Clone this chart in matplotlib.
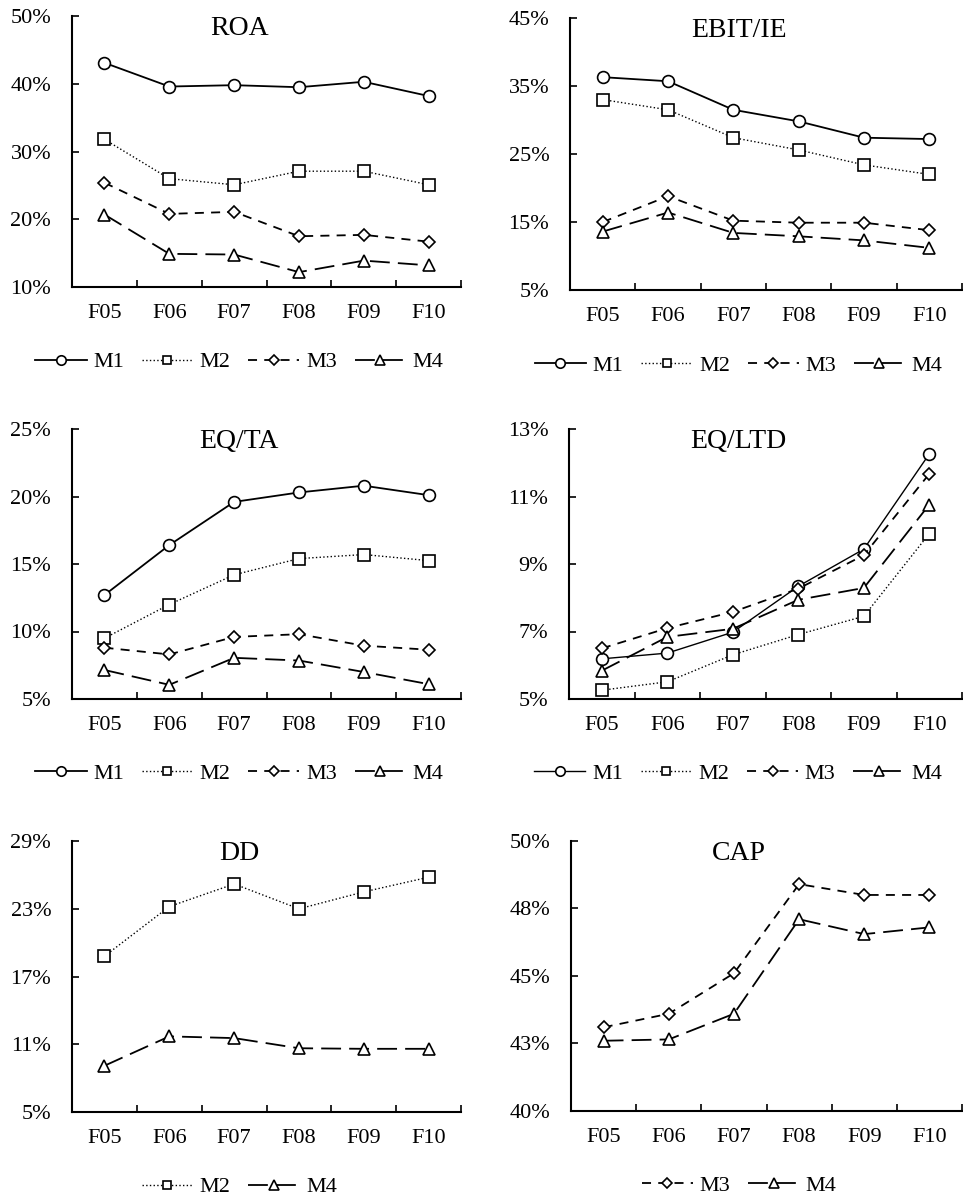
import matplotlib
matplotlib.use("agg")
import matplotlib.pyplot as plt
from matplotlib.ticker import FixedLocator, FuncFormatter

plt.rcParams['font.family'] = ['Liberation Serif', 'DejaVu Serif']

years = ['F05', 'F06', 'F07', 'F08', 'F09', 'F10']

# values in percent
roa_m1 = [43.1, 39.6, 39.8, 39.5, 40.3, 38.2]
roa_m2 = [31.8, 26.0, 25.1, 27.1, 27.1, 25.1]
roa_m3 = [25.4, 20.8, 21.1, 17.5, 17.7, 16.7]
roa_m4 = [20.7, 14.9, 14.8, 12.2, 13.9, 13.2]

ebit_m1 = [36.3, 35.7, 31.5, 29.8, 27.4, 27.2]
ebit_m2 = [33.0, 31.5, 27.4, 25.6, 23.4, 22.0]
ebit_m3 = [15.0, 18.8, 15.2, 14.9, 14.9, 13.8]
ebit_m4 = [13.6, 16.4, 13.4, 12.9, 12.3, 11.2]

eqta_m1 = [12.7, 16.4, 19.6, 20.3, 20.8, 20.1]
eqta_m2 = [9.5, 12.0, 14.2, 15.4, 15.7, 15.25]
eqta_m3 = [8.8, 8.3, 9.6, 9.8, 8.95, 8.65]
eqta_m4 = [7.15, 6.05, 8.05, 7.85, 7.0, 6.1]

eqltd_m1 = [6.19, 6.36, 6.98, 8.34, 9.44, 12.26]
eqltd_m2 = [5.26, 5.51, 6.31, 6.91, 7.45, 9.9]
eqltd_m3 = [6.5, 7.1, 7.58, 8.27, 9.26, 11.67]
eqltd_m4 = [5.84, 6.84, 7.08, 7.94, 8.29, 10.76]

dd_m2 = [18.8, 23.2, 25.2, 23.0, 24.5, 25.8]
dd_m4 = [9.1, 11.7, 11.55, 10.65, 10.6, 10.6]

cap_m3 = [43.1, 43.6, 45.1, 48.4, 48.0, 48.0]
cap_m4 = [42.6, 42.65, 43.6, 47.1, 46.55, 46.8]

styles = {
    'M1': dict(ls='-', lw=1.3, marker='o', ms=8.5),
    'M2': dict(ls=':', lw=1.0, marker='s', ms=8),
    'M3': dict(ls=(0, (5, 4)), lw=1.3, marker='D', ms=6),
    'M4': dict(ls=(0, (11, 4.5)), lw=1.3, marker='^', ms=8.5),
}

panels = [
    ('ROA', [('M1', roa_m1), ('M2', roa_m2), ('M3', roa_m3), ('M4', roa_m4)],
     [10, 20, 30, 40, 50], [0.0748, 0.7608, 0.404, 0.2258]),
    ('EBIT/IE', [('M1', ebit_m1), ('M2', ebit_m2), ('M3', ebit_m3), ('M4', ebit_m4)],
     [5, 15, 25, 35, 45], [0.592, 0.7583, 0.407, 0.2267]),
    ('EQ/TA', [('M1', eqta_m1), ('M2', eqta_m2), ('M3', eqta_m3), ('M4', eqta_m4)],
     [5, 10, 15, 20, 25], [0.0748, 0.4175, 0.404, 0.225]),
    ('EQ/LTD', [('M1', eqltd_m1), ('M2', eqltd_m2), ('M3', eqltd_m3), ('M4', eqltd_m4)],
     [5, 7, 9, 11, 13], [0.591, 0.4175, 0.408, 0.225]),
    ('DD', [('M2', dd_m2), ('M4', dd_m4)],
     [5, 11, 17, 23, 29], [0.0748, 0.0733, 0.404, 0.2258]),
    ('CAP', [('M3', cap_m3), ('M4', cap_m4)],
     [40, 42.5, 45, 47.5, 50], [0.593, 0.0742, 0.406, 0.2250]),
]

fig = plt.figure(figsize=(9.63, 12), dpi=100)

for title, series, yt, rect in panels:
    ax = fig.add_axes(rect)
    x = range(len(years))
    for name, vals in series:
        st = dict(styles[name])
        if title == 'EQ/LTD' and name == 'M1':
            st['lw'] = 1.0
        ax.plot(x, vals, color='black', mfc='white', mec='black', mew=1.2,
                label=name, **st)
    ax.set_xlim(-0.5, len(years) - 0.5)
    ax.set_ylim(yt[0], yt[-1])
    ax.yaxis.set_major_locator(FixedLocator(yt))
    ax.yaxis.set_major_formatter(FuncFormatter(lambda v, p: '%d%%' % int(v + 0.5)))
    ax.set_xticks([i + 0.5 for i in range(len(years))])
    ax.set_xticklabels([])
    ax.set_xticks(list(x), minor=True)
    ax.set_xticklabels(years, minor=True, fontsize=16)
    ax.tick_params(axis='x', which='major', direction='in', length=5, width=1.2)
    ax.tick_params(axis='x', which='minor', length=0, pad=12)
    ax.tick_params(axis='y', direction='in', length=5, width=1.2, pad=15, labelsize=16)
    for s in ['top', 'right']:
        ax.spines[s].set_visible(False)
    for s in ['left', 'bottom']:
        ax.spines[s].set_linewidth(1.5)
    ax.text(0.43, 0.955, title, transform=ax.transAxes, ha='center', va='center',
            fontsize=20)
    ax.legend(loc='center', bbox_to_anchor=(0.43, -0.277), ncol=len(series),
              frameon=False, fontsize=16, handlelength=2.3, handletextpad=0.3,
              columnspacing=0.8, markerscale=0.8)

plt.savefig('out.png', dpi=100)
